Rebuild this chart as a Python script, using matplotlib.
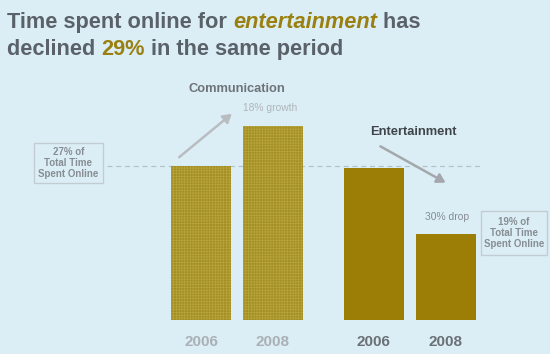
import matplotlib
matplotlib.use("Agg")
import matplotlib.pyplot as plt
from matplotlib.patches import FancyArrowPatch, Rectangle

# chart data (share of total time online)
groups = ["Communication", "Communication", "Entertainment", "Entertainment"]
years = ["2006", "2008", "2006", "2008"]
values = [27.0, 34.0, 26.7, 15.1]
ref_level = 27.0

BG = "#dbeef6"
OLIVE = "#9c7e06"
COMM = "#a48f24"
DARK = "#5b6169"

plt.rcParams["font.family"] = ["Liberation Sans", "DejaVu Sans"]
plt.rcParams["hatch.linewidth"] = 0.5
plt.rcParams["hatch.color"] = "#b6a43c"

fig = plt.figure(figsize=(5.5, 3.54), dpi=100, facecolor=BG)
# axes spans full width; bottom sits on the bar base
ax = fig.add_axes([0, 34 / 354, 1, 320 / 354])
ax.set_facecolor(BG)
px = 72.0  # pixels per x unit
x0 = 201.0
xs = [0, 1, 2.4, 3.4]
ax.set_xlim(-x0 / px, (550 - x0) / px)
ax.set_ylim(0, 320 / 5.7)
for s in ax.spines.values():
    s.set_visible(False)

colors = [COMM, COMM, OLIVE, OLIVE]
hatches = ["++++++", "++++++", None, None]
for x, v, c, h in zip(xs, values, colors, hatches):
    ax.bar(x, v, width=60 / px, color=c, hatch=h, edgecolor=c if h is None else "#b6a43c",
           linewidth=0)

ax.set_xticks(xs)
ax.set_xticklabels(years, fontsize=11, fontweight="bold")
for lab, c in zip(ax.get_xticklabels(), ["#aab0b5", "#aab0b5", "#6a7076", "#6a7076"]):
    lab.set_color(c)
ax.tick_params(axis="x", length=0, pad=11)
ax.set_yticks([])

# dashed reference line at 27%
ax.plot([(107 - x0) / px, (480 - x0) / px], [ref_level, ref_level],
        ls=(0, (4, 3)), color="#b4c2ca", lw=0.9, zorder=0)


def fpx(x, y):
    # figure pixel coords (top-left origin) -> figure fraction
    return x / 550, 1 - y / 354


# title with coloured words
fig.canvas.draw()
r = fig.canvas.get_renderer()


def run_text(x, y, pieces, size):
    for txt, col, style in pieces:
        t = fig.text(*fpx(x, y), txt, color=col, fontsize=size, fontweight="bold",
                     fontstyle=style, va="baseline", ha="left")
        bb = t.get_window_extent(renderer=r)
        x += bb.width


run_text(7, 28, [("Time spent online for ", DARK, "normal"),
                 ("entertainment", "#9a8010", "italic"),
                 (" has", DARK, "normal")], 15.7)
run_text(7, 55, [("declined ", DARK, "normal"),
                 ("29%", "#9a8010", "normal"),
                 (" in the same period", DARK, "normal")], 15.7)

fig.text(*fpx(237, 89), "Communication", color="#6d7378", fontsize=9.3,
         fontweight="bold", ha="center", va="center")
fig.text(*fpx(270, 108), "18% growth", color="#b0b5b9", fontsize=7.4,
         ha="center", va="center")
fig.text(*fpx(413, 132), "Entertainment", color="#3e4449", fontsize=9.3,
         fontweight="bold", ha="center", va="center")
fig.text(*fpx(447, 217), "30% drop", color="#868c92", fontsize=7.4,
         ha="center", va="center")

fig.add_artist(FancyArrowPatch(fpx(177, 159), fpx(234, 112), transform=fig.transFigure,
                               arrowstyle="-|>,head_length=5,head_width=3",
                               color="#b9bdc1", lw=1.8))
fig.add_artist(FancyArrowPatch(fpx(378, 145), fpx(448, 184), transform=fig.transFigure,
                               arrowstyle="-|>,head_length=5,head_width=3",
                               color="#a4a8ac", lw=1.8))

# annotation boxes
for (bx0, by0, bx1, by1), pct in [((34, 143, 103, 183), "27% of"),
                                  ((481, 211, 547, 255), "19% of")]:
    fig.add_artist(Rectangle(fpx(bx0, by1), (bx1 - bx0) / 550, (by1 - by0) / 354,
                             transform=fig.transFigure, facecolor=BG,
                             edgecolor="#c3ccd2", lw=1))
    cx = (bx0 + bx1) / 2
    cy = (by0 + by1) / 2
    fig.text(*fpx(cx, cy), pct + "\nTotal Time\nSpent Online", color="#878d93",
             fontsize=7, fontweight="bold", ha="center", va="center", linespacing=1.15)

fig.savefig("out.png", dpi=100, facecolor=BG)
